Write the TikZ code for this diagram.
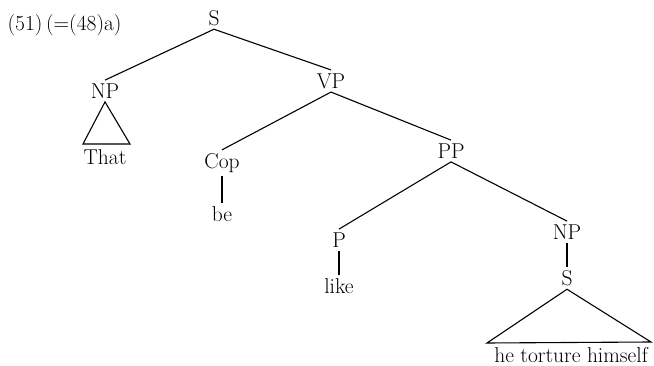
\documentclass[tikz,border=0pt]{standalone}
\usepackage{tikz}
\usetikzlibrary{positioning}

\begin{document}
\begin{tikzpicture}[x=1pt,y=-1pt,line width=1.1pt]
  \useasboundingbox (0,0) rectangle (654,366);
  \node[anchor=west,inner sep=0pt,font=\fontsize{21.5}{23}\selectfont] (ex) at (7,25) {(51)\,(=(48)a)};

  \begin{scope}[every node/.style={inner sep=3pt,font=\fontsize{21.5}{23}\selectfont}]
    \node (s) at (214,18) {S};
    \node (np) at (105,91) {NP};
    \node (vp) at (331,81) {VP};
    \node (that) at (105,157) {That};
    \node (cop) at (222,163) {Cop};
    \node (be) at (222,214) {be};
    \node (pp) at (451,151) {PP};
    \node (p) at (339,240) {P};
    \node (like) at (339,286) {like};
    \node (np2) at (567,232) {NP};
    \node (s2) at (567,278) {S};
    \node (lower) at (571,355) {he torture himself};
  \end{scope}

  % branches
  \draw (s.south) -- (np.north);
  \draw (s.south) -- (vp.north);
  \draw (vp.south) -- (cop.north);
  \draw (vp.south) -- (pp.north);
  \draw (pp.south) -- (p.north);
  \draw (pp.south) -- (np2.north);
  \draw (cop.south) -- (be.north);
  \draw (p.south) -- (like.north);
  \draw (np2.south) -- (s2.north);

  % triangles over unanalysed material
  \coordinate (tl) at (83,144);
  \coordinate (tr) at (130,144);
  \draw (np.south) -- (tr) -- (tl) -- cycle;
  \coordinate (ul) at (487,343);
  \coordinate (ur) at (651,342);
  \draw (s2.south) -- (ur) -- (ul) -- cycle;
\end{tikzpicture}
\end{document}
